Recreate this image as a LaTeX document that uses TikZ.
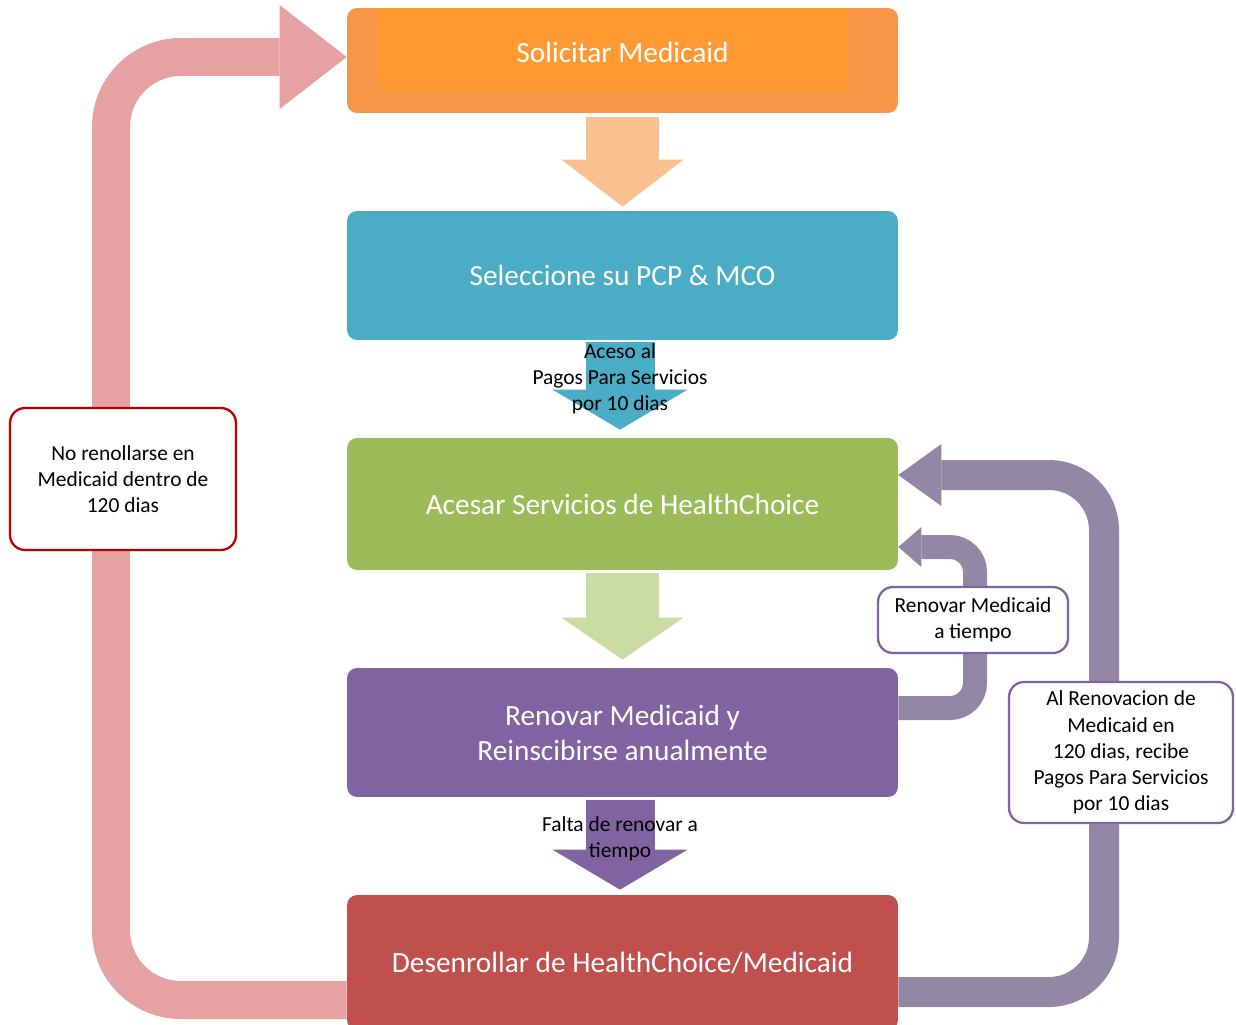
\documentclass[tikz,border=0pt]{standalone}
\usepackage{fontspec}
\setmainfont{Carlito}
\usetikzlibrary{arrows.meta,backgrounds}
\definecolor{solorange}{HTML}{F79646}
\definecolor{solinner}{HTML}{FF9A33}
\definecolor{arrorange}{HTML}{FAC090}
\definecolor{selblue}{HTML}{4BACC6}
\definecolor{accgreen}{HTML}{9BBB59}
\definecolor{arrgreen}{HTML}{C9DCA3}
\definecolor{renpurple}{HTML}{8064A2}
\definecolor{desred}{HTML}{C0504D}
\definecolor{looppink}{HTML}{E6A1A2}
\definecolor{loopgray}{HTML}{9387A6}
\definecolor{noteline}{HTML}{C00000}
\tikzset{
  stepbox/.style={rounded corners=0.2cm, minimum width=11.02cm, text=white, align=center,
    inner sep=0pt, font=\fontsize{16.7}{20}\selectfont},
  notebox/.style={draw, fill=white, rounded corners=0.3cm, line width=1.3pt, align=center,
    inner sep=0pt, font=\fontsize{12.2}{14.9}\selectfont},
  downarr/.style n args={4}{draw=#1, line width=#2, -{Triangle[width=#3, length=#4, line width=0pt]}},
  looparr/.style n args={4}{draw=#1, line width=#2, -{Triangle[width=#3, length=#4, line width=0pt]}},
  arrtext/.style={align=center, text=black, font=\fontsize{12.2}{14.9}\selectfont}
}
\begin{document}
\begin{tikzpicture}[x=0.02cm, y=-0.02cm]
  \useasboundingbox (0,0) rectangle (1236,1024);
  \clip (0,0) rectangle (1236,1024);

  \node[stepbox, fill=solorange, minimum height=2.1cm,
    path picture={\fill[solinner, sharp corners] ([xshift=0.62cm]path picture bounding box.north west)
      rectangle ([xshift=-1cm, yshift=0.46cm]path picture bounding box.south east);}]
    (sol) at (622.5, 60.5) {\raisebox{0.32cm}{Solicitar Medicaid}};
  \node[stepbox, fill=selblue, minimum height=2.58cm] (sel) at (622.5, 275.5) {Seleccione su PCP \& MCO};
  \node[stepbox, fill=accgreen, minimum height=2.64cm] (acc) at (622.5, 504) {Acesar Servicios de HealthChoice};
  \node[stepbox, fill=renpurple, minimum height=2.58cm] (ren) at (622.5, 732.5) {Renovar Medicaid y\\Reinscibirse anualmente};
  \node[stepbox, fill=desred, minimum height=2.7cm] (des) at (622.5, 962.5) {Desenrollar de HealthChoice/Medicaid};

  \coordinate (pinkturn) at (111, 57);
  \coordinate (bigturn) at (1104, 475);
  \coordinate (smallturn) at (975, 547);

  \begin{scope}[on background layer]
    \draw[looparr={looppink}{0.76cm}{2.08cm}{1.34cm}, rounded corners=1.4cm]
      ([yshift=-0.75cm]des.west) -| (pinkturn) -- (pinkturn -| sol.west);
    \draw[looparr={loopgray}{0.6cm}{1.24cm}{0.86cm}, rounded corners=1.1cm]
      ([yshift=-0.59cm]des.east) -| (bigturn) -- ([yshift=0.58cm]acc.east);
    \draw[looparr={loopgray}{0.48cm}{0.8cm}{0.46cm}, rounded corners=0.5cm]
      ([yshift=0.49cm]ren.east) -| (smallturn) -- ([yshift=-0.86cm]acc.east);
  \end{scope}

  \draw[downarr={arrorange}{1.46cm}{2.44cm}{0.94cm}] ([yshift=-0.08cm]sol.south) -- ([yshift=0.08cm]sel.north);
  \draw[downarr={selblue}{1.38cm}{2.7cm}{0.8cm}] ([xshift=-0.05cm, yshift=-0.04cm]sel.south) -- ([xshift=-0.05cm, yshift=0.16cm]acc.north)
    node[arrtext, midway, yshift=0.14cm] {Aceso al\\Pagos Para Servicios\\por 10 dias};
  \draw[downarr={arrgreen}{1.46cm}{2.44cm}{0.84cm}] ([yshift=-0.06cm]acc.south) -- ([yshift=0.16cm]ren.north);
  \draw[downarr={renpurple}{1.38cm}{2.7cm}{0.8cm}] ([xshift=-0.05cm, yshift=-0.06cm]ren.south) -- ([xshift=-0.05cm, yshift=0.1cm]des.north)
    node[arrtext, midway, yshift=0.13cm] {Falta de renovar a\\tiempo};

  \node[notebox, draw=noteline, minimum width=4.52cm, minimum height=2.84cm] (noren) at (123, 479)
    {No renollarse en\\Medicaid dentro de\\120 dias};
  \node[notebox, draw=renpurple, minimum width=3.8cm, minimum height=1.32cm] (atiempo) at (973, 620)
    {Renovar Medicaid\\a tiempo};
  \node[notebox, draw=renpurple, minimum width=4.48cm, minimum height=2.82cm] (alren) at (1121, 752.5)
    {Al Renovacion de\\Medicaid en\\120 dias, recibe\\Pagos Para Servicios\\por 10 dias};
\end{tikzpicture}
\end{document}
